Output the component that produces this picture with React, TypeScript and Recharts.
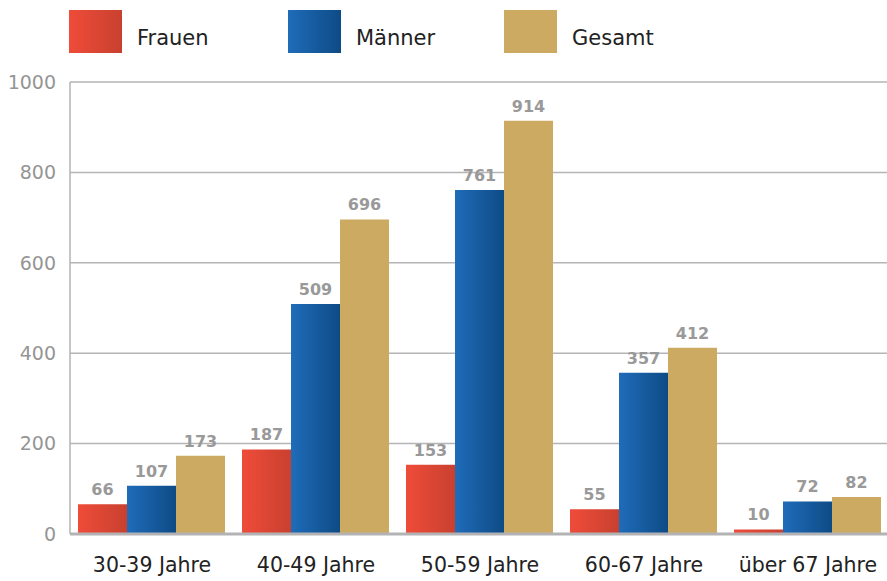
import React from 'react'
import { Bar, BarChart, CartesianGrid, LabelList, XAxis, YAxis } from 'recharts'

const categories = ['30-39 Jahre', '40-49 Jahre', '50-59 Jahre', '60-67 Jahre', 'über 67 Jahre']
const frauen = [66, 187, 153, 55, 10]
const maenner = [107, 509, 761, 357, 72]
const gesamt = [173, 696, 914, 412, 82]
const yTicks = [0, 200, 400, 600, 800, 1000]

const series = [
  { key: 'frauen', name: 'Frauen', fill: 'url(#gradRed)', from: '#ef4c39', to: '#c9402f' },
  { key: 'maenner', name: 'Männer', fill: 'url(#gradBlue)', from: '#1f6cb9', to: '#0e4b86' },
  { key: 'gesamt', name: 'Gesamt', fill: '#cdaa62', from: '#cdaa62', to: '#cdaa62' },
]

const data = categories.map((c, i) => ({
  name: c,
  frauen: frauen[i],
  maenner: maenner[i],
  gesamt: gesamt[i],
}))

const font = '"DejaVu Sans", Verdana, sans-serif'
const legendX = [69, 288, 504]

export default function App() {
  return (
    <div style={{ position: 'fixed', left: 0, top: 0, width: 887, height: 581, overflow: 'hidden', background: '#fff', fontFamily: font }}>
      {series.map((s, i) => (
        <div key={s.key} style={{ position: 'absolute', left: legendX[i], top: 10, display: 'flex', alignItems: 'center' }}>
          <div style={{ width: 53, height: 43, background: `linear-gradient(to right, ${s.from}, ${s.to})` }} />
          <span style={{ marginLeft: 15, marginTop: 12, fontSize: 21, color: '#222' }}>{s.name}</span>
        </div>
      ))}
      <BarChart
        width={887}
        height={581}
        data={data}
        margin={{ top: 82, right: -3, left: 0, bottom: 0 }}
        barCategoryGap={8}
        barGap={0}
      >
        <defs>
          <linearGradient id="gradRed" x1="0" y1="0" x2="1" y2="0">
            <stop offset="0%" stopColor="#ef4c39" />
            <stop offset="100%" stopColor="#c9402f" />
          </linearGradient>
          <linearGradient id="gradBlue" x1="0" y1="0" x2="1" y2="0">
            <stop offset="0%" stopColor="#1f6cb9" />
            <stop offset="100%" stopColor="#0e4b86" />
          </linearGradient>
        </defs>
        <CartesianGrid vertical={false} stroke="#b5b5b7" strokeWidth={1.5} />
        <XAxis
          dataKey="name"
          height={47}
          axisLine={{ stroke: '#b3b3b5', strokeWidth: 3 }}
          tickLine={false}
          tickMargin={17}
          tick={{ fill: '#222', fontSize: 20.5, fontFamily: font }}
          interval={0}
        />
        <YAxis
          width={70}
          domain={[0, 1000]}
          ticks={yTicks}
          axisLine={{ stroke: '#b3b3b5', strokeWidth: 1.5 }}
          tickLine={false}
          tickSize={0}
          tickMargin={14}
          tick={{ fill: '#959595', fontSize: 19, fontFamily: font }}
        />
        {series.map((s) => (
          <Bar key={s.key} dataKey={s.key} name={s.name} fill={s.fill} isAnimationActive={false}>
            <LabelList
              dataKey={s.key}
              position="top"
              offset={9}
              style={{ fill: '#999', fontSize: 16, fontWeight: 700, fontFamily: font }}
            />
          </Bar>
        ))}
      </BarChart>
    </div>
  )
}
